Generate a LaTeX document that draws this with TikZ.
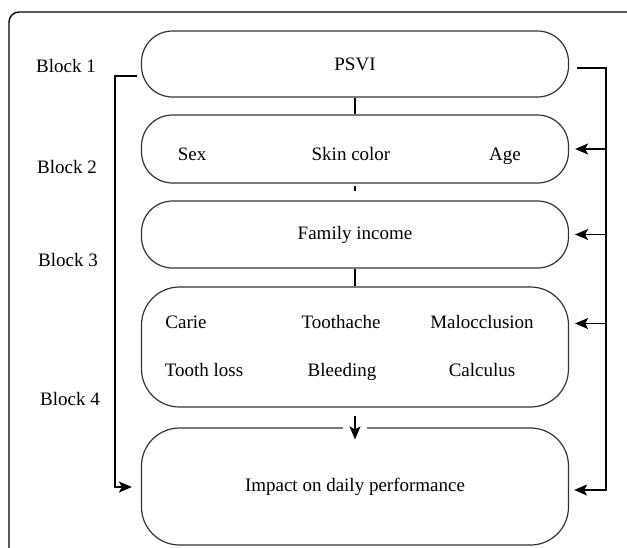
\documentclass[tikz,border=0pt]{standalone}
\usepackage{fontspec}
\setmainfont{LiberationSerif-Regular.ttf}
\usetikzlibrary{arrows.meta}

\begin{document}
\begin{tikzpicture}[x=1pt, y=-1pt, >={Stealth[length=13pt, width=11pt, inset=3pt]},
  font=\fontsize{19}{22}\selectfont,
  blk/.style={draw=black!80, line width=1.2pt, minimum width=427pt, inner sep=0pt},
  txt/.style={text height=13pt, text depth=4pt, inner sep=0pt},
  lnk/.style={line width=1.6pt}]
\useasboundingbox (0,0) rectangle (627,547);
\clip (0,0) rectangle (627,547);
\draw[line width=1.4pt, rounded corners=10pt] (9,12) rectangle (660,600);
% blocks
\node[blk, minimum height=66pt, rounded corners=31pt] (psvi) at (355,64) {PSVI};
\node[blk, minimum height=68pt, rounded corners=31pt] (demo) at (355,149) {};
\node[blk, minimum height=67pt, rounded corners=31pt] (income) at (355,234.5) {Family income};
\node[blk, minimum height=120pt, rounded corners=38pt] (oral) at (355,347) {};
\node[blk, minimum height=117pt, rounded corners=38pt] (impact) at (355,486.5) {Impact on daily performance};
% block labels
\node[txt] (b1) at (66,67.5) {Block 1};
\node[txt] (b2) at (67,168.5) {Block 2};
\node[txt] (b3) at (68,261.5) {Block 3};
\node[txt] (b4) at (70,400.5) {Block 4};
% texts in blocks
\node[txt] (sex) at (192,155.5) {Sex};
\node[txt] (skin) at (351,155.5) {Skin color};
\node[txt] (age) at (505,155.5) {Age};
\node[txt] (carie) at (186,323.5) {Carie};
\node[txt] (ache) at (341,323.5) {Toothache};
\node[txt] (maloc) at (482,323.5) {Malocclusion};
\node[txt] (loss) at (204,371.5) {Tooth loss};
\node[txt] (bleed) at (342,371.5) {Bleeding};
\node[txt] (calc) at (482,371.5) {Calculus};
% links between blocks
\draw[lnk] (psvi) -- (demo);
\draw[lnk, shorten <=2pt, shorten >=9pt] (demo) -- (income);
\draw[lnk] (income) -- (oral);
\fill[white] (343,424) rectangle (367,433);
\draw[lnk, ->, shorten <=8pt, shorten >=-12pt] (oral.south) -- (impact.north);
% left path
\coordinate (la) at (115,76);
\coordinate (lb) at (115,487);
\draw[lnk, ->, shorten <=4pt, shorten >=9pt] (la -| psvi.west) -- (la) -- (lb) -- (lb -| impact.west);
% right path
\coordinate (ra) at (606,68);
\coordinate (rb) at (606,490);
\draw[lnk, ->, shorten <=8pt, shorten >=5pt] (ra -| psvi.east) -- (ra) -- (rb) -- (rb -| impact.east);
\draw[lnk, ->, shorten >=6pt] (demo.east -| ra) -- (demo.east);
\draw[lnk, ->, shorten >=6pt] (income.east -| ra) -- (income.east);
\draw[lnk, ->, shorten >=6pt] (maloc -| ra) -- (maloc -| oral.east);
\end{tikzpicture}
\end{document}
